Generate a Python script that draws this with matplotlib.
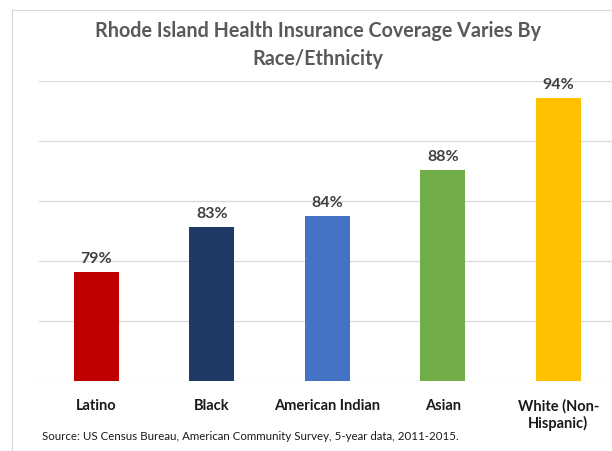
import matplotlib
matplotlib.use("Agg")
import matplotlib.pyplot as plt
from matplotlib.lines import Line2D

categories = ["Latino", "Black", "American Indian", "Asian", "White (Non-\nHispanic)"]
values = [79.1, 82.9, 83.8, 87.6, 93.6]
colors = ["#C00000", "#203864", "#4472C4", "#70AD47", "#FFC000"]
title = "Rhode Island Health Insurance Coverage Varies By\nRace/Ethnicity"
source = "Source: US Census Bureau, American Community Survey, 5-year data, 2011-2015."

plt.rcParams['font.family'] = ['Lato', 'DejaVu Sans']

W, H = 612, 452
fig = plt.figure(figsize=(W / 100, H / 100), dpi=100)
fig.patch.set_facecolor("white")

ax = fig.add_axes([38.5 / W, (H - 382.3) / H, 577.5 / W, 300 / H])
x = range(len(categories))
ax.bar(x, values, width=0.39, color=colors, bottom=0, zorder=3)
ax.set_ylim(70, 95)
ax.set_xlim(-0.5, len(categories) - 0.5)
ax.set_yticks([70, 75, 80, 85, 90, 95])
ax.yaxis.grid(True, color="#D9D9D9", linewidth=0.9, zorder=0)
ax.tick_params(axis="y", length=0, labelleft=False)
ax.tick_params(axis="x", length=0, pad=12)
ax.set_xticks(list(x))
ax.set_xticklabels(categories, fontsize=10.5, fontweight="bold", color="#1a1a1a", va="top")
for s in ax.spines.values():
    s.set_visible(False)

for i, v in enumerate(values):
    ax.annotate(f"{round(v)}%", (i, v), xytext=(0, 5), textcoords="offset points",
                ha="center", va="bottom", fontsize=11.5, fontweight="bold", color="#404040")

fig.text(318 / W, 1 - 45 / H, title, ha="center", va="center", fontsize=14.2,
         fontweight="bold", color="#595959", linespacing=1.55)
fig.text(42 / W, 1 - 437 / H, source, ha="left", va="center", fontsize=8.3, color="#1a1a1a")

# chart frame border (cropped)
fig.add_artist(Line2D([12 / W, 12 / W], [0, 1 - 11 / H], color="#D9D9D9", lw=0.8))
fig.add_artist(Line2D([12 / W, 1], [1 - 11 / H, 1 - 11 / H], color="#D9D9D9", lw=0.8))

fig.savefig("out.png", dpi=100)
